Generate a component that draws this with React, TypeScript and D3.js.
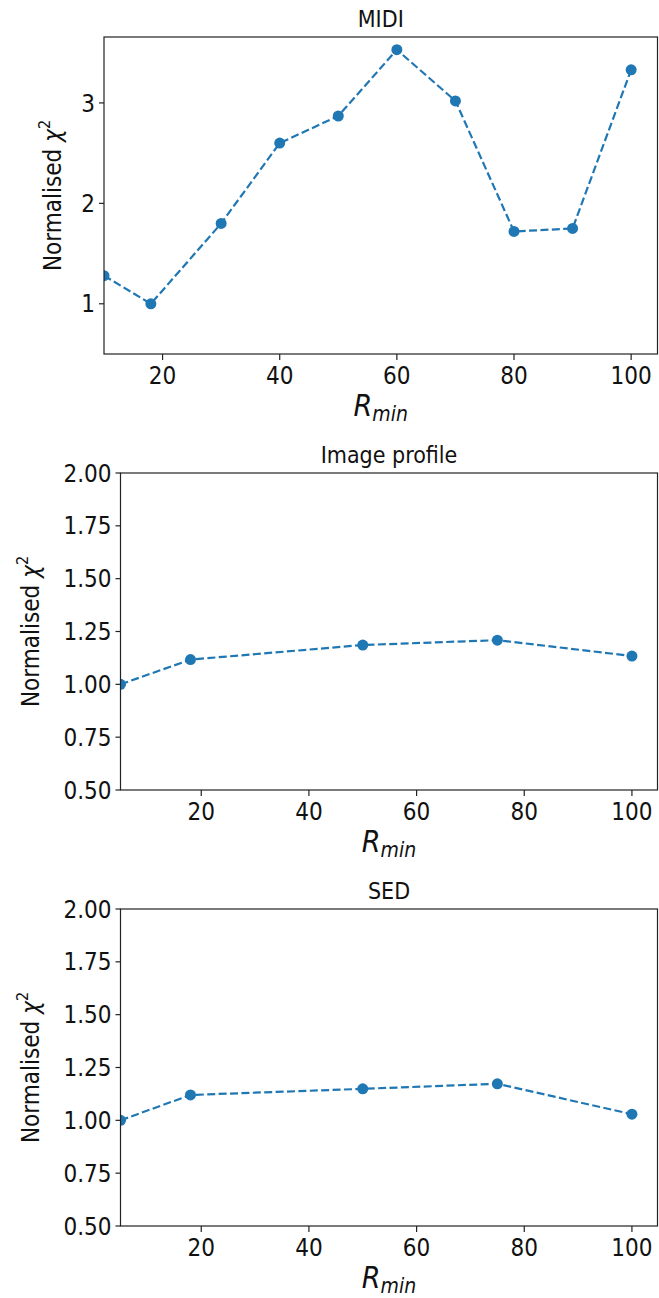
import React from "react";
import * as d3 from "d3";

// Normalised chi-square against minimum radius, one series per data set
const midiRmin = [10, 18, 30, 40, 50, 60, 70, 80, 90, 100];
const midiChi2 = [1.28, 1.0, 1.8, 2.6, 2.87, 3.53, 3.02, 1.72, 1.75, 3.33];

const profileRmin = [5, 18, 50, 75, 100];
const profileChi2 = [1.0, 1.117, 1.186, 1.209, 1.134];

const sedRmin = [5, 18, 50, 75, 100];
const sedChi2 = [1.0, 1.12, 1.149, 1.173, 1.029];

const xTickValues = [20, 40, 60, 80, 100];
const midiYTicks = [1, 2, 3];
const fitYTicks = [0.5, 0.75, 1.0, 1.25, 1.5, 1.75, 2.0];

const panelTitles = ["MIDI", "Image profile", "SED"];

const WIDTH = 659;
const HEIGHT = 1298;
const BLUE = "#1f77b4";
const FONT = "'DejaVu Sans Condensed', 'DejaVu Sans', sans-serif";

type PanelSpec = {
  title: string;
  xs: number[];
  ys: number[];
  xDomain: [number, number];
  yDomain: [number, number];
  yTicks: number[];
  yFormat: (v: number) => string;
  top: number;
  left: number;
  labelX: number;
};

const panels: PanelSpec[] = [
  {
    title: panelTitles[0],
    xs: midiRmin,
    ys: midiChi2,
    xDomain: [10, 104.5],
    yDomain: [0.5, 3.6565],
    yTicks: midiYTicks,
    yFormat: d3.format("d"),
    top: 37,
    left: 104,
    labelX: 61,
  },
  {
    title: panelTitles[1],
    xs: profileRmin,
    ys: profileChi2,
    xDomain: [5, 104.75],
    yDomain: [0.5, 2.0],
    yTicks: fitYTicks,
    yFormat: d3.format(".2f"),
    top: 473,
    left: 120.5,
    labelX: 39,
  },
  {
    title: panelTitles[2],
    xs: sedRmin,
    ys: sedChi2,
    xDomain: [5, 104.75],
    yDomain: [0.5, 2.0],
    yTicks: fitYTicks,
    yFormat: d3.format(".2f"),
    top: 909,
    left: 120.5,
    labelX: 39,
  },
];

const PANEL_H = 317;
const RIGHT = 657.5;
const TICK = 5;

function Panel({ spec }: { spec: PanelSpec }) {
  const { top, left } = spec;
  const bottom = top + PANEL_H;
  const x = d3.scaleLinear().domain(spec.xDomain).range([left, RIGHT]);
  const y = d3.scaleLinear().domain(spec.yDomain).range([bottom, top]);
  const pts = spec.xs.map((v, i) => [v, spec.ys[i]] as [number, number]);
  const line = d3
    .line<[number, number]>()
    .x((d) => x(d[0]))
    .y((d) => y(d[1]));
  const clipId = `clip-${spec.title.replace(/\s+/g, "-")}`;
  const cx = (left + RIGHT) / 2;
  const cy = (top + bottom) / 2;

  return (
    <g fontFamily={FONT} fill="#111">
      <defs>
        <clipPath id={clipId}>
          <rect x={left} y={top} width={RIGHT - left} height={PANEL_H} />
        </clipPath>
      </defs>

      <g clipPath={`url(#${clipId})`}>
        <path
          d={line(pts) ?? ""}
          fill="none"
          stroke={BLUE}
          strokeWidth={2.2}
          strokeDasharray="8,3.4"
        />
        {pts.map((d, i) => (
          <circle key={i} cx={x(d[0])} cy={y(d[1])} r={5.5} fill={BLUE} />
        ))}
      </g>

      {/* frame */}
      <rect
        x={left}
        y={top}
        width={RIGHT - left}
        height={PANEL_H}
        fill="none"
        stroke="#222"
        strokeWidth={1.2}
      />

      {/* x ticks */}
      {xTickValues.map((t) => (
        <g key={`x${t}`}>
          <line x1={x(t)} x2={x(t)} y1={bottom} y2={bottom + TICK + 1} stroke="#222" strokeWidth={1.2} />
          <text x={x(t)} y={bottom + 30} textAnchor="middle" fontSize={24}>
            {t}
          </text>
        </g>
      ))}

      {/* y ticks */}
      {spec.yTicks.map((t) => (
        <g key={`y${t}`}>
          <line x1={left - TICK} x2={left} y1={y(t)} y2={y(t)} stroke="#222" strokeWidth={1.2} />
          <text x={left - TICK - 4} y={y(t)} dy="0.36em" textAnchor="end" fontSize={24}>
            {spec.yFormat(t)}
          </text>
        </g>
      ))}

      {/* title */}
      <text x={cx} y={top - 10} textAnchor="middle" fontSize={23}>
        {spec.title}
      </text>

      {/* x label */}
      <text x={cx} y={bottom + 62} textAnchor="middle" fontSize={30}>
        <tspan fontStyle="italic">R</tspan>
        <tspan fontStyle="italic" fontSize={21} dy={5}>
          min
        </tspan>
      </text>

      {/* y label */}
      <text
        transform={`translate(${spec.labelX},${cy}) rotate(-90)`}
        textAnchor="middle"
        fontSize={24}
      >
        Normalised <tspan fontStyle="italic">χ</tspan>
        <tspan fontSize={16} dy={-11}>
          2
        </tspan>
      </text>
    </g>
  );
}

export default function App() {
  return (
    <svg
      width={WIDTH}
      height={HEIGHT}
      viewBox={`0 0 ${WIDTH} ${HEIGHT}`}
      style={{ position: "absolute", left: 0, top: 0, background: "#fff" }}
    >
      <rect x={0} y={0} width={WIDTH} height={HEIGHT} fill="#fff" />
      {panels.map((p) => (
        <Panel key={p.title} spec={p} />
      ))}
    </svg>
  );
}
